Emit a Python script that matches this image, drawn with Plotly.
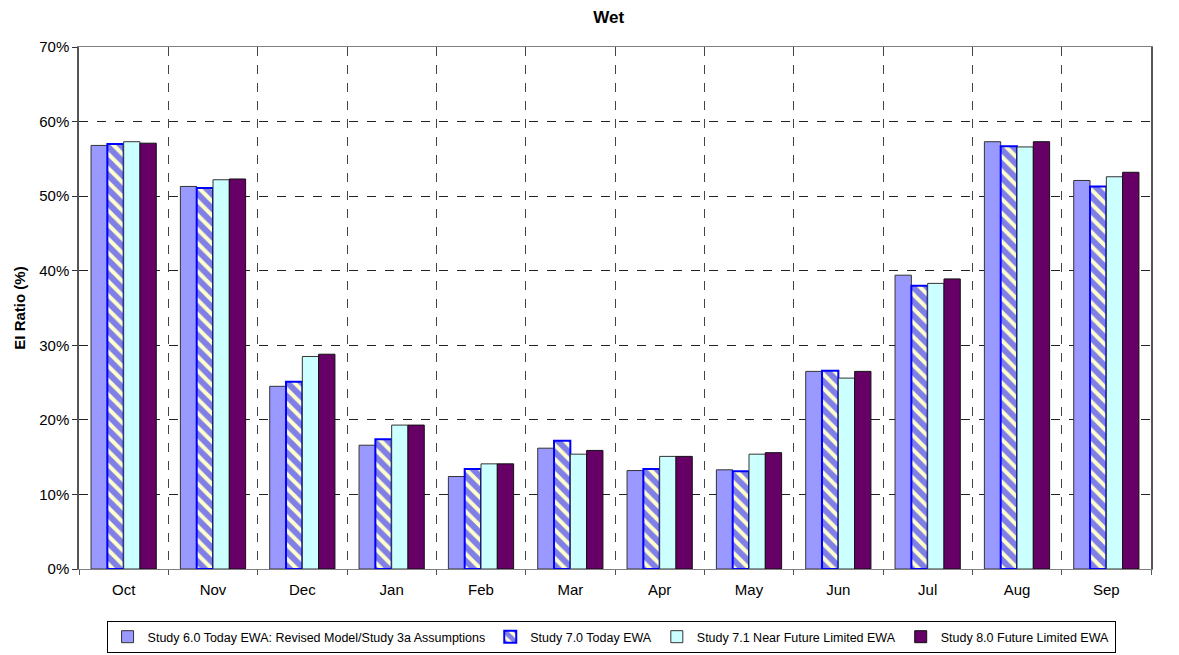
import plotly.graph_objects as go

months = ["Oct", "Nov", "Dec", "Jan", "Feb", "Mar", "Apr", "May", "Jun", "Jul", "Aug", "Sep"]

study_60 = [56.8, 51.3, 24.5, 16.6, 12.4, 16.2, 13.2, 13.3, 26.5, 39.4, 57.3, 52.1]
study_70 = [57.0, 51.1, 25.1, 17.4, 13.4, 17.2, 13.4, 13.1, 26.6, 38.0, 56.7, 51.3]
study_71 = [57.3, 52.2, 28.5, 19.3, 14.1, 15.4, 15.1, 15.4, 25.6, 38.3, 56.6, 52.6]
study_80 = [57.1, 52.3, 28.8, 19.3, 14.1, 15.9, 15.1, 15.6, 26.5, 38.9, 57.3, 53.2]

names = [
    "Study 6.0 Today EWA: Revised Model/Study 3a Assumptions",
    "Study 7.0 Today EWA",
    "Study 7.1 Near Future Limited EWA",
    "Study 8.0 Future Limited EWA",
]

FONT = "Liberation Sans, Arial, sans-serif"

fig = go.Figure()
fig.add_trace(go.Bar(x=months, y=study_60, name=names[0],
                     marker=dict(color="#9999FF", line=dict(color="#333333", width=1))))
fig.add_trace(go.Bar(x=months, y=study_70, name=names[1],
                     marker=dict(color="#FFFFCC", line=dict(color="#0000FF", width=2),
                                 pattern=dict(shape="\\", fgcolor="#0000FF", bgcolor="#FFFFCC",
                                              size=10, solidity=0.6))))
fig.add_trace(go.Bar(x=months, y=study_71, name=names[2],
                     marker=dict(color="#CCFFFF", line=dict(color="#333333", width=1))))
fig.add_trace(go.Bar(x=months, y=study_80, name=names[3],
                     marker=dict(color="#660066", line=dict(color="#111111", width=1))))

# The page body has an 8px default margin, so the figure is sized/offset to compensate.
fig.update_layout(
    width=1171, height=647,
    margin=dict(l=71, r=28, t=39, b=86, autoexpand=False),
    paper_bgcolor="white", plot_bgcolor="white",
    font=dict(family=FONT, size=15, color="#000000"),
    title=dict(text="<b>Wet</b>", x=0.513, xref="container", xanchor="center",
               y=0.986, yref="container", yanchor="middle",
               font=dict(family=FONT, size=17, color="#000000")),
    barmode="group", bargap=0.27, bargroupgap=0.0,
    showlegend=True,
    legend=dict(orientation="h", x=0.515, xanchor="center", xref="container",
                y=0.003, yanchor="bottom", yref="container",
                bordercolor="#000000", borderwidth=1,
                font=dict(family=FONT, size=12.5, color="#000000"),
                itemwidth=30, tracegroupgap=0),
)

fig.update_xaxes(
    type="category", tickson="boundaries", ticks="outside", ticklen=5,
    tickcolor="#555555", showgrid=True, gridcolor="#444444", griddash="dash",
    gridwidth=1, showline=True, linecolor="#808080", linewidth=1, mirror=True,
    tickfont=dict(family=FONT, size=15), zeroline=False, ticklabelstandoff=7,
)
fig.update_yaxes(
    range=[0, 70], dtick=10, ticksuffix="%", ticks="outside", ticklen=5,
    tickcolor="#333333", showgrid=True, gridcolor="#222222", griddash="dash",
    gridwidth=1, showline=True, linecolor="#555555", linewidth=1.5, mirror=True,
    tickfont=dict(family=FONT, size=15), zeroline=False,
    title=dict(text="<b>EI Ratio (%)</b>", font=dict(family=FONT, size=15), standoff=10),
)

fig.write_html("out.html")
